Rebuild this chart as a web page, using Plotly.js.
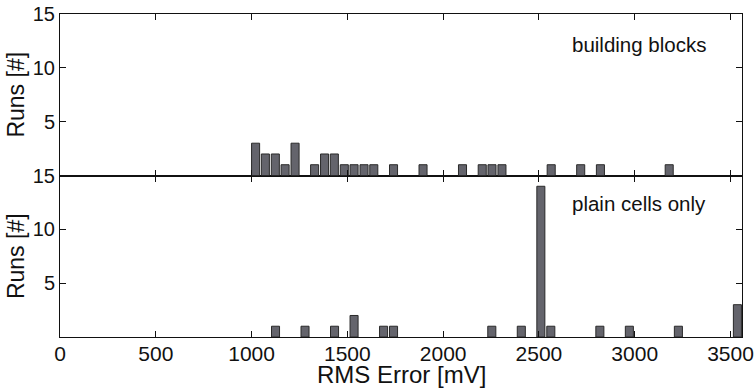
<!DOCTYPE html>
<html>
<head>
<meta charset="utf-8">
<script src="https://cdn.plot.ly/plotly-3.0.1.min.js"></script>
<style>html,body{margin:0;padding:0;background:#fff;}#chart{width:756px;height:389px;}</style>
</head>
<body>
<div id="chart"></div>
<script>
// Top panel: "building blocks"
const blocksX = [1021, 1072, 1124, 1175, 1227, 1329, 1381, 1432, 1484, 1535, 1587, 1638, 1741, 1895, 2101, 2204, 2255, 2307, 2564, 2718, 2821, 3180];
const blocksRuns = [3, 2, 2, 1, 3, 1, 2, 2, 1, 1, 1, 1, 1, 1, 1, 1, 1, 1, 1, 1, 1, 1];
// Bottom panel: "plain cells only"
const plainX = [1125, 1279, 1433, 1535, 1689, 1741, 2254, 2408, 2510, 2562, 2818, 2972, 3228, 3536];
const plainRuns = [1, 1, 1, 2, 1, 1, 1, 1, 14, 1, 1, 1, 1, 3];
const xTicks = [0, 500, 1000, 1500, 2000, 2500, 3000, 3500];
const yTicks = [5, 10, 15];
const labels = ["building blocks", "plain cells only"];
const xTitle = 'RMS Error [mV]';
const yTitle = 'Runs [#]';

const barStyle = {color: '#64646c', line: {color: '#2a2a2a', width: 1}};
const BW = 42;

const traces = [
  {type: 'bar', x: blocksX, y: blocksRuns, xaxis: 'x2', yaxis: 'y2', width: BW, marker: barStyle, hoverinfo: 'x+y'},
  {type: 'bar', x: plainX, y: plainRuns, xaxis: 'x', yaxis: 'y', width: BW, marker: barStyle, hoverinfo: 'x+y'}
];

const font = {family: 'Liberation Sans, Arial, Helvetica, sans-serif', color: '#111'};
const axCommon = {
  showline: true, linecolor: '#111', linewidth: 1, mirror: 'ticks',
  ticks: 'inside', ticklen: 6, tickcolor: '#111', tickwidth: 1,
  showgrid: false, zeroline: false, fixedrange: true
};

const layout = {
  width: 756, height: 389,
  margin: {l: 60, r: 14, t: 14, b: 52},
  paper_bgcolor: '#fff', plot_bgcolor: '#fff',
  showlegend: false, bargap: 0,
  font: Object.assign({size: 20}, font),
  xaxis: Object.assign({}, axCommon, {
    anchor: 'y', range: [0, 3560], tickvals: xTicks, ticktext: xTicks.map(String),
    tickfont: Object.assign({size: 21}, font), ticklabelstandoff: -2
  }),
  xaxis2: Object.assign({}, axCommon, {
    anchor: 'y2', range: [0, 3560], tickvals: xTicks, showticklabels: false, matches: 'x'
  }),
  yaxis: Object.assign({}, axCommon, {
    domain: [0, 0.5], range: [0, 15], tickvals: yTicks, ticktext: yTicks.map(String),
    tickfont: Object.assign({size: 20}, font),
    title: {text: yTitle, font: Object.assign({size: 23}, font), standoff: 1}
  }),
  yaxis2: Object.assign({}, axCommon, {
    domain: [0.5, 1], range: [0, 15], tickvals: yTicks, ticktext: yTicks.map(String),
    tickfont: Object.assign({size: 20}, font),
    title: {text: yTitle, font: Object.assign({size: 23}, font), standoff: 1}
  }),
  annotations: [
    {text: labels[0], xref: 'paper', yref: 'paper', x: 1 - 34/682, y: 0.905, xanchor: 'right', yanchor: 'middle', showarrow: false, font: Object.assign({size: 20.5}, font)},
    {text: labels[1], xref: 'paper', yref: 'paper', x: 1 - 34/682, y: 0.413, xanchor: 'right', yanchor: 'middle', showarrow: false, font: Object.assign({size: 20.5}, font)},
    {text: xTitle, xref: 'paper', yref: 'paper', x: 0.5, y: -0.117, xanchor: 'center', yanchor: 'middle', showarrow: false, font: Object.assign({size: 24}, font)}
  ]
};

Plotly.newPlot('chart', traces, layout, {displayModeBar: false, staticPlot: true});
</script>
</body>
</html>
